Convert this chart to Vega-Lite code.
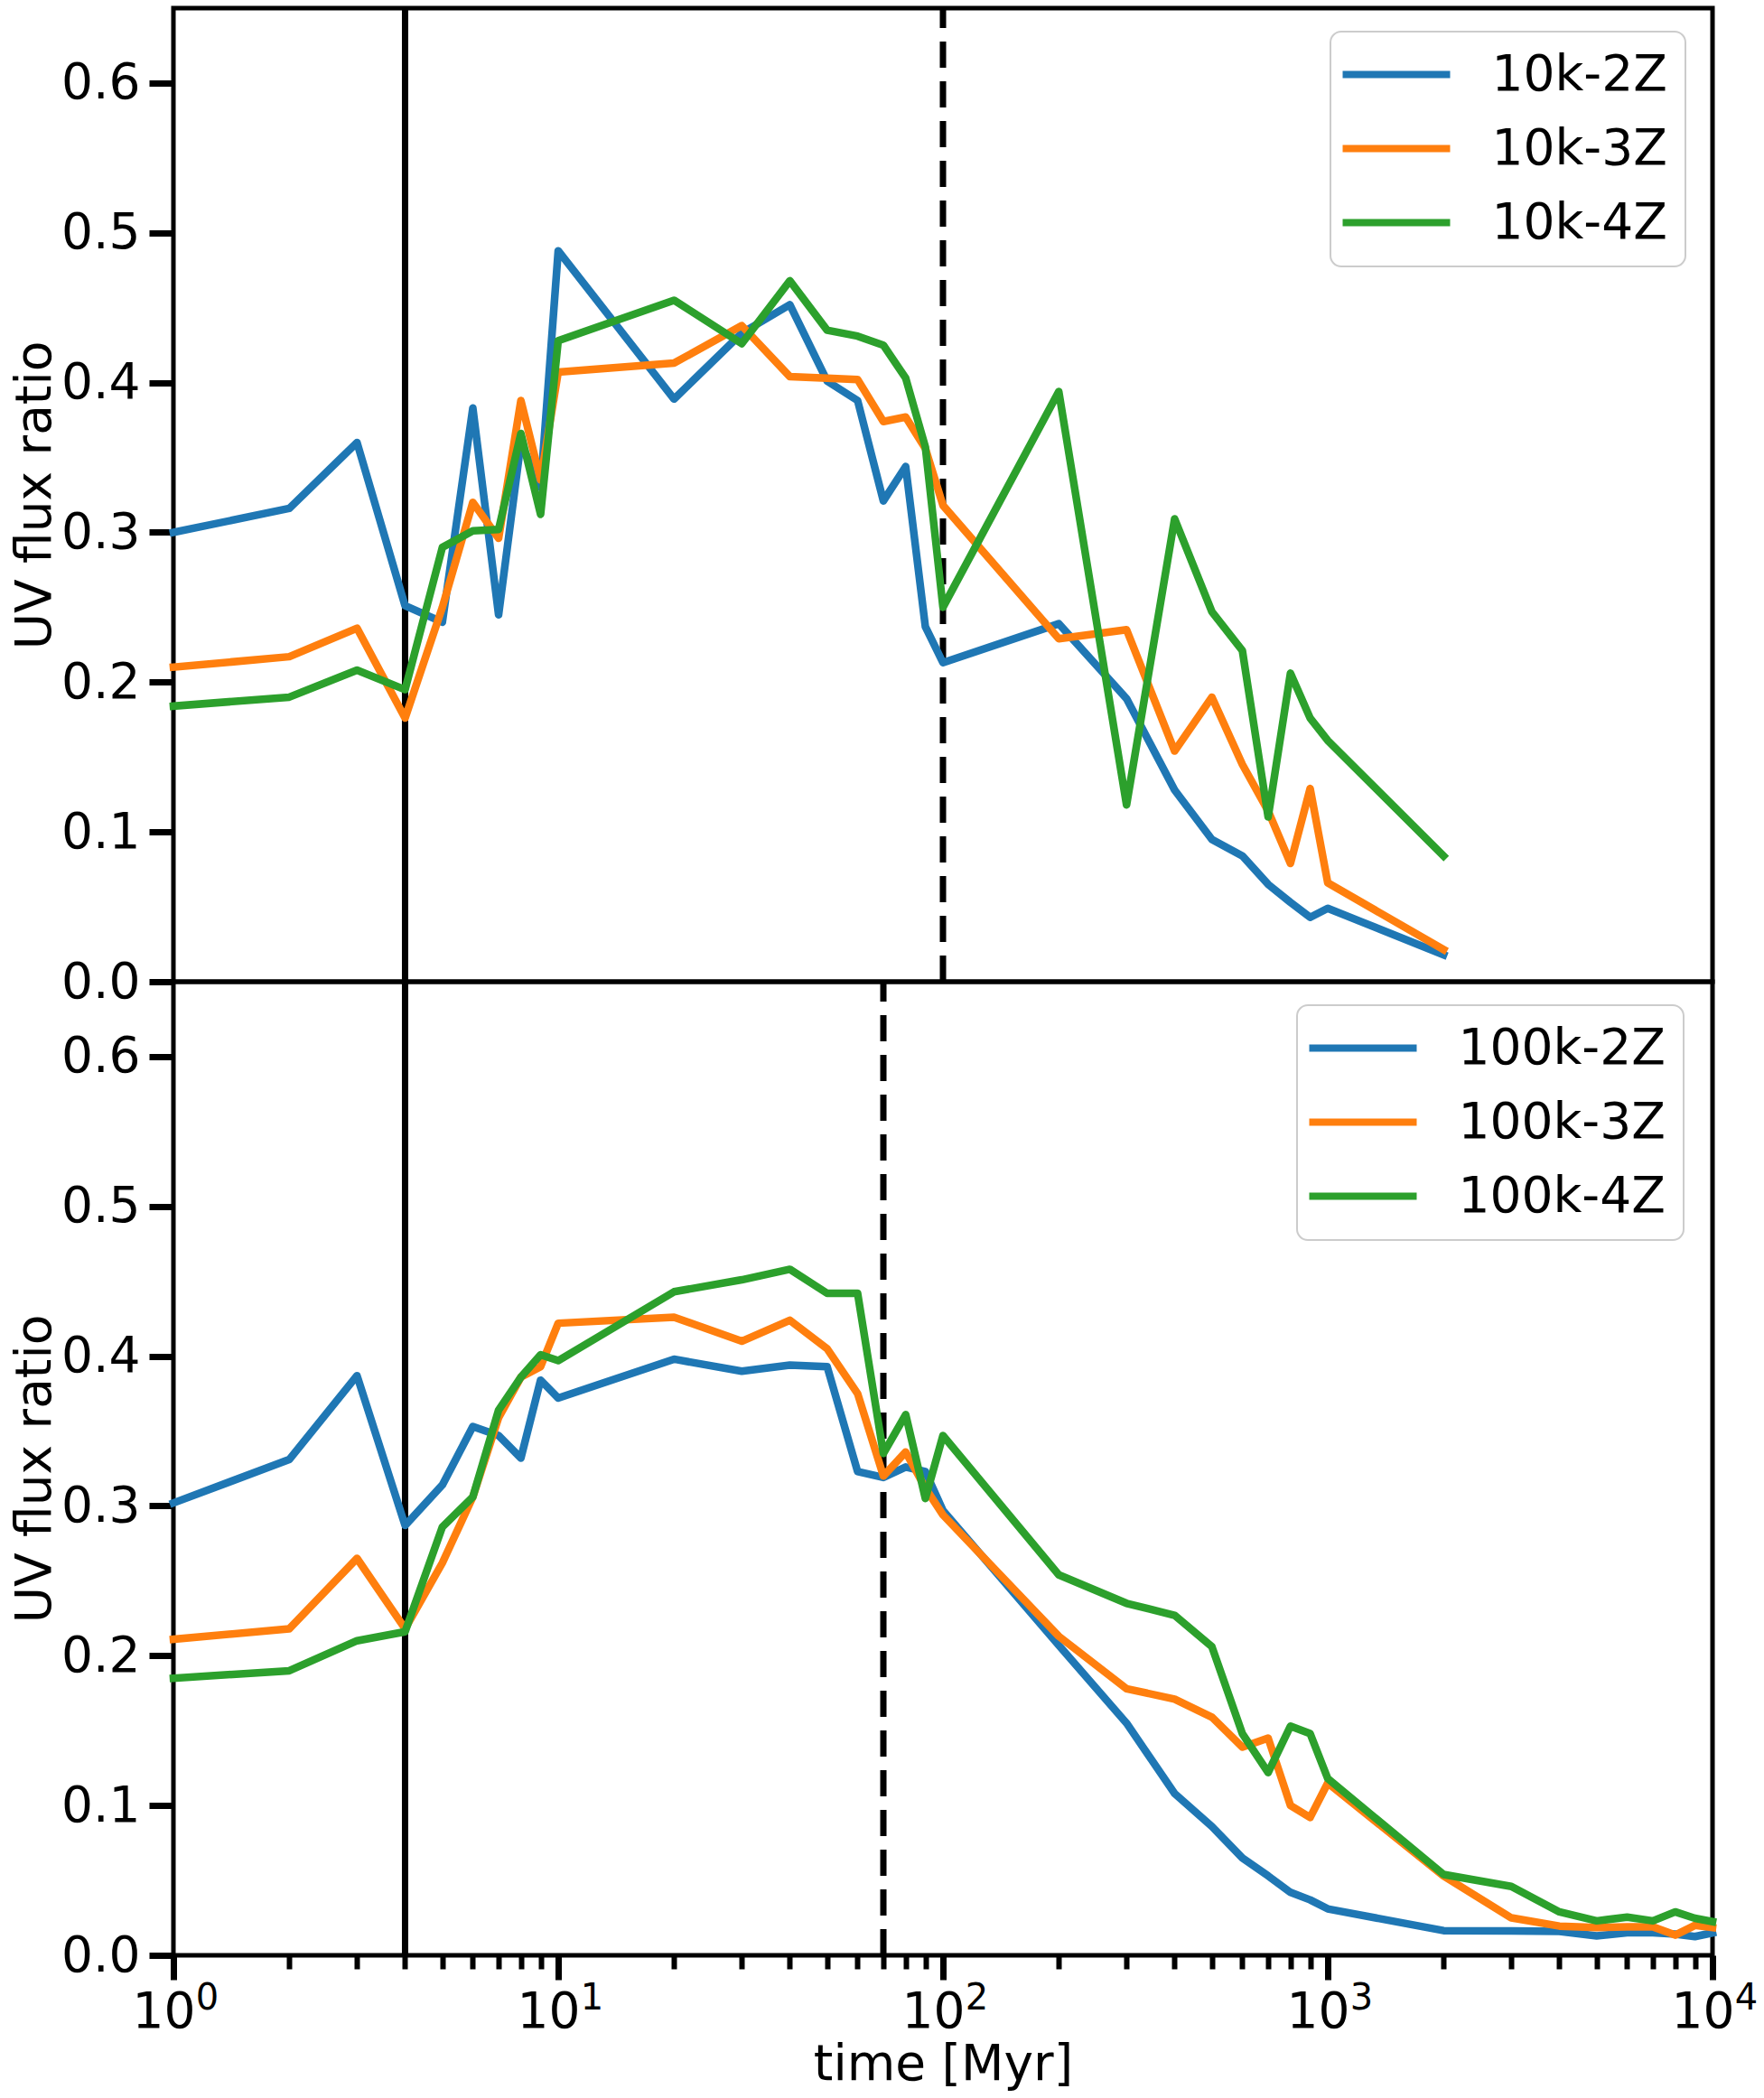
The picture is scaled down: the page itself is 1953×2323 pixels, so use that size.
{
  "$schema": "https://vega.github.io/schema/vega-lite/v6.json",
  "background": "white",
  "padding": {"left": 9, "top": 3, "right": 0, "bottom": 0},
  "spacing": 0,
  "bounds": "flush",
  "datasets": {
    "top_vlines": [{"t": 4, "style": "solid"}, {"t": 100, "style": "dashed"}],
    "bottom_vlines": [{"t": 4, "style": "solid"}, {"t": 70, "style": "dashed"}],
    "top_lines": [
      {"t": 1, "r": 0.300, "run": "10k-2Z"}, {"t": 2, "r": 0.316, "run": "10k-2Z"}, {"t": 3, "r": 0.360, "run": "10k-2Z"},
      {"t": 4, "r": 0.251, "run": "10k-2Z"}, {"t": 5, "r": 0.240, "run": "10k-2Z"}, {"t": 6, "r": 0.383, "run": "10k-2Z"},
      {"t": 7, "r": 0.245, "run": "10k-2Z"}, {"t": 8, "r": 0.360, "run": "10k-2Z"}, {"t": 9, "r": 0.330, "run": "10k-2Z"},
      {"t": 10, "r": 0.488, "run": "10k-2Z"}, {"t": 20, "r": 0.389, "run": "10k-2Z"}, {"t": 30, "r": 0.433, "run": "10k-2Z"},
      {"t": 40, "r": 0.452, "run": "10k-2Z"}, {"t": 50, "r": 0.401, "run": "10k-2Z"}, {"t": 60, "r": 0.388, "run": "10k-2Z"},
      {"t": 70, "r": 0.321, "run": "10k-2Z"}, {"t": 80, "r": 0.344, "run": "10k-2Z"}, {"t": 90, "r": 0.237, "run": "10k-2Z"},
      {"t": 100, "r": 0.213, "run": "10k-2Z"}, {"t": 200, "r": 0.239, "run": "10k-2Z"}, {"t": 300, "r": 0.189, "run": "10k-2Z"},
      {"t": 400, "r": 0.128, "run": "10k-2Z"}, {"t": 500, "r": 0.095, "run": "10k-2Z"}, {"t": 600, "r": 0.084, "run": "10k-2Z"},
      {"t": 700, "r": 0.065, "run": "10k-2Z"}, {"t": 800, "r": 0.053, "run": "10k-2Z"}, {"t": 900, "r": 0.043, "run": "10k-2Z"},
      {"t": 1000, "r": 0.049, "run": "10k-2Z"}, {"t": 2000, "r": 0.018, "run": "10k-2Z"},

      {"t": 1, "r": 0.210, "run": "10k-3Z"}, {"t": 2, "r": 0.217, "run": "10k-3Z"}, {"t": 3, "r": 0.236, "run": "10k-3Z"},
      {"t": 4, "r": 0.176, "run": "10k-3Z"}, {"t": 5, "r": 0.250, "run": "10k-3Z"}, {"t": 6, "r": 0.320, "run": "10k-3Z"},
      {"t": 7, "r": 0.296, "run": "10k-3Z"}, {"t": 8, "r": 0.388, "run": "10k-3Z"}, {"t": 9, "r": 0.335, "run": "10k-3Z"},
      {"t": 10, "r": 0.407, "run": "10k-3Z"}, {"t": 20, "r": 0.413, "run": "10k-3Z"}, {"t": 30, "r": 0.438, "run": "10k-3Z"},
      {"t": 40, "r": 0.404, "run": "10k-3Z"}, {"t": 50, "r": 0.403, "run": "10k-3Z"}, {"t": 60, "r": 0.402, "run": "10k-3Z"},
      {"t": 70, "r": 0.374, "run": "10k-3Z"}, {"t": 80, "r": 0.377, "run": "10k-3Z"}, {"t": 90, "r": 0.356, "run": "10k-3Z"},
      {"t": 100, "r": 0.318, "run": "10k-3Z"}, {"t": 200, "r": 0.229, "run": "10k-3Z"}, {"t": 300, "r": 0.235, "run": "10k-3Z"},
      {"t": 400, "r": 0.154, "run": "10k-3Z"}, {"t": 500, "r": 0.190, "run": "10k-3Z"}, {"t": 600, "r": 0.145, "run": "10k-3Z"},
      {"t": 700, "r": 0.114, "run": "10k-3Z"}, {"t": 800, "r": 0.079, "run": "10k-3Z"}, {"t": 900, "r": 0.129, "run": "10k-3Z"},
      {"t": 1000, "r": 0.066, "run": "10k-3Z"}, {"t": 2000, "r": 0.0215, "run": "10k-3Z"},

      {"t": 1, "r": 0.184, "run": "10k-4Z"}, {"t": 2, "r": 0.190, "run": "10k-4Z"}, {"t": 3, "r": 0.208, "run": "10k-4Z"},
      {"t": 4, "r": 0.195, "run": "10k-4Z"}, {"t": 5, "r": 0.290, "run": "10k-4Z"}, {"t": 6, "r": 0.301, "run": "10k-4Z"},
      {"t": 7, "r": 0.302, "run": "10k-4Z"}, {"t": 8, "r": 0.366, "run": "10k-4Z"}, {"t": 9, "r": 0.312, "run": "10k-4Z"},
      {"t": 10, "r": 0.428, "run": "10k-4Z"}, {"t": 20, "r": 0.455, "run": "10k-4Z"}, {"t": 30, "r": 0.426, "run": "10k-4Z"},
      {"t": 40, "r": 0.468, "run": "10k-4Z"}, {"t": 50, "r": 0.435, "run": "10k-4Z"}, {"t": 60, "r": 0.431, "run": "10k-4Z"},
      {"t": 70, "r": 0.425, "run": "10k-4Z"}, {"t": 80, "r": 0.403, "run": "10k-4Z"}, {"t": 90, "r": 0.357, "run": "10k-4Z"},
      {"t": 100, "r": 0.250, "run": "10k-4Z"}, {"t": 200, "r": 0.394, "run": "10k-4Z"}, {"t": 300, "r": 0.118, "run": "10k-4Z"},
      {"t": 400, "r": 0.309, "run": "10k-4Z"}, {"t": 500, "r": 0.247, "run": "10k-4Z"}, {"t": 600, "r": 0.221, "run": "10k-4Z"},
      {"t": 700, "r": 0.110, "run": "10k-4Z"}, {"t": 800, "r": 0.206, "run": "10k-4Z"}, {"t": 900, "r": 0.176, "run": "10k-4Z"},
      {"t": 1000, "r": 0.161, "run": "10k-4Z"}, {"t": 2000, "r": 0.084, "run": "10k-4Z"}
    ],
    "bottom_lines": [
      {"t": 1, "r": 0.302, "run": "100k-2Z"}, {"t": 2, "r": 0.331, "run": "100k-2Z"}, {"t": 3, "r": 0.387, "run": "100k-2Z"},
      {"t": 4, "r": 0.287, "run": "100k-2Z"}, {"t": 5, "r": 0.314, "run": "100k-2Z"}, {"t": 6, "r": 0.353, "run": "100k-2Z"},
      {"t": 7, "r": 0.347, "run": "100k-2Z"}, {"t": 8, "r": 0.332, "run": "100k-2Z"}, {"t": 9, "r": 0.384, "run": "100k-2Z"},
      {"t": 10, "r": 0.372, "run": "100k-2Z"}, {"t": 20, "r": 0.398, "run": "100k-2Z"}, {"t": 30, "r": 0.390, "run": "100k-2Z"},
      {"t": 40, "r": 0.394, "run": "100k-2Z"}, {"t": 50, "r": 0.393, "run": "100k-2Z"}, {"t": 60, "r": 0.323, "run": "100k-2Z"},
      {"t": 70, "r": 0.319, "run": "100k-2Z"}, {"t": 80, "r": 0.326, "run": "100k-2Z"}, {"t": 90, "r": 0.323, "run": "100k-2Z"},
      {"t": 100, "r": 0.297, "run": "100k-2Z"}, {"t": 200, "r": 0.207, "run": "100k-2Z"}, {"t": 300, "r": 0.155, "run": "100k-2Z"},
      {"t": 400, "r": 0.108, "run": "100k-2Z"}, {"t": 500, "r": 0.086, "run": "100k-2Z"}, {"t": 600, "r": 0.065, "run": "100k-2Z"},
      {"t": 700, "r": 0.053, "run": "100k-2Z"}, {"t": 800, "r": 0.042, "run": "100k-2Z"}, {"t": 900, "r": 0.037, "run": "100k-2Z"},
      {"t": 1000, "r": 0.031, "run": "100k-2Z"}, {"t": 2000, "r": 0.0165, "run": "100k-2Z"}, {"t": 3000, "r": 0.0163, "run": "100k-2Z"},
      {"t": 4000, "r": 0.016, "run": "100k-2Z"}, {"t": 5000, "r": 0.013, "run": "100k-2Z"}, {"t": 6000, "r": 0.015, "run": "100k-2Z"},
      {"t": 7000, "r": 0.015, "run": "100k-2Z"}, {"t": 8000, "r": 0.0142, "run": "100k-2Z"}, {"t": 9000, "r": 0.0125, "run": "100k-2Z"},
      {"t": 10000, "r": 0.015, "run": "100k-2Z"},

      {"t": 1, "r": 0.211, "run": "100k-3Z"}, {"t": 2, "r": 0.218, "run": "100k-3Z"}, {"t": 3, "r": 0.265, "run": "100k-3Z"},
      {"t": 4, "r": 0.218, "run": "100k-3Z"}, {"t": 5, "r": 0.262, "run": "100k-3Z"}, {"t": 6, "r": 0.306, "run": "100k-3Z"},
      {"t": 7, "r": 0.359, "run": "100k-3Z"}, {"t": 8, "r": 0.386, "run": "100k-3Z"}, {"t": 9, "r": 0.393, "run": "100k-3Z"},
      {"t": 10, "r": 0.422, "run": "100k-3Z"}, {"t": 20, "r": 0.426, "run": "100k-3Z"}, {"t": 30, "r": 0.410, "run": "100k-3Z"},
      {"t": 40, "r": 0.424, "run": "100k-3Z"}, {"t": 50, "r": 0.405, "run": "100k-3Z"}, {"t": 60, "r": 0.375, "run": "100k-3Z"},
      {"t": 70, "r": 0.320, "run": "100k-3Z"}, {"t": 80, "r": 0.336, "run": "100k-3Z"}, {"t": 90, "r": 0.312, "run": "100k-3Z"},
      {"t": 100, "r": 0.294, "run": "100k-3Z"}, {"t": 200, "r": 0.213, "run": "100k-3Z"}, {"t": 300, "r": 0.178, "run": "100k-3Z"},
      {"t": 400, "r": 0.171, "run": "100k-3Z"}, {"t": 500, "r": 0.159, "run": "100k-3Z"}, {"t": 600, "r": 0.139, "run": "100k-3Z"},
      {"t": 700, "r": 0.145, "run": "100k-3Z"}, {"t": 800, "r": 0.100, "run": "100k-3Z"}, {"t": 900, "r": 0.092, "run": "100k-3Z"},
      {"t": 1000, "r": 0.115, "run": "100k-3Z"}, {"t": 2000, "r": 0.053, "run": "100k-3Z"}, {"t": 3000, "r": 0.025, "run": "100k-3Z"},
      {"t": 4000, "r": 0.0195, "run": "100k-3Z"}, {"t": 5000, "r": 0.0185, "run": "100k-3Z"}, {"t": 6000, "r": 0.019, "run": "100k-3Z"},
      {"t": 7000, "r": 0.019, "run": "100k-3Z"}, {"t": 8000, "r": 0.0135, "run": "100k-3Z"}, {"t": 9000, "r": 0.020, "run": "100k-3Z"},
      {"t": 10000, "r": 0.0185, "run": "100k-3Z"},

      {"t": 1, "r": 0.185, "run": "100k-4Z"}, {"t": 2, "r": 0.190, "run": "100k-4Z"}, {"t": 3, "r": 0.210, "run": "100k-4Z"},
      {"t": 4, "r": 0.216, "run": "100k-4Z"}, {"t": 5, "r": 0.286, "run": "100k-4Z"}, {"t": 6, "r": 0.306, "run": "100k-4Z"},
      {"t": 7, "r": 0.364, "run": "100k-4Z"}, {"t": 8, "r": 0.386, "run": "100k-4Z"}, {"t": 9, "r": 0.401, "run": "100k-4Z"},
      {"t": 10, "r": 0.397, "run": "100k-4Z"}, {"t": 20, "r": 0.443, "run": "100k-4Z"}, {"t": 30, "r": 0.451, "run": "100k-4Z"},
      {"t": 40, "r": 0.458, "run": "100k-4Z"}, {"t": 50, "r": 0.442, "run": "100k-4Z"}, {"t": 60, "r": 0.442, "run": "100k-4Z"},
      {"t": 70, "r": 0.335, "run": "100k-4Z"}, {"t": 80, "r": 0.361, "run": "100k-4Z"}, {"t": 90, "r": 0.305, "run": "100k-4Z"},
      {"t": 100, "r": 0.347, "run": "100k-4Z"}, {"t": 200, "r": 0.254, "run": "100k-4Z"}, {"t": 300, "r": 0.235, "run": "100k-4Z"},
      {"t": 400, "r": 0.227, "run": "100k-4Z"}, {"t": 500, "r": 0.206, "run": "100k-4Z"}, {"t": 600, "r": 0.148, "run": "100k-4Z"},
      {"t": 700, "r": 0.122, "run": "100k-4Z"}, {"t": 800, "r": 0.153, "run": "100k-4Z"}, {"t": 900, "r": 0.148, "run": "100k-4Z"},
      {"t": 1000, "r": 0.118, "run": "100k-4Z"}, {"t": 2000, "r": 0.054, "run": "100k-4Z"}, {"t": 3000, "r": 0.046, "run": "100k-4Z"},
      {"t": 4000, "r": 0.029, "run": "100k-4Z"}, {"t": 5000, "r": 0.023, "run": "100k-4Z"}, {"t": 6000, "r": 0.0255, "run": "100k-4Z"},
      {"t": 7000, "r": 0.023, "run": "100k-4Z"}, {"t": 8000, "r": 0.029, "run": "100k-4Z"}, {"t": 9000, "r": 0.0247, "run": "100k-4Z"},
      {"t": 10000, "r": 0.0225, "run": "100k-4Z"}
    ]
  },
  "vconcat": [
    {
      "width": 1704,
      "height": 1078,
      "layer": [
        {
          "data": {"name": "top_vlines"},
          "mark": {"type": "rule", "color": "black", "strokeWidth": 7},
          "encoding": {
            "x": {"field": "t", "type": "quantitative", "scale": {"type": "log", "domain": [1, 10000], "nice": false}},
            "y": {"datum": 0, "type": "quantitative", "scale": {"domain": [0, 0.65], "nice": false, "zero": false}},
            "y2": {"datum": 0.65},
            "strokeDash": {
              "field": "style", "type": "nominal",
              "scale": {"domain": ["solid", "dashed"], "range": [[1, 0], [29, 15]]},
              "legend": null
            }
          }
        },
        {
          "data": {"name": "top_lines"},
          "mark": {"type": "line", "strokeWidth": 8.5, "strokeCap": "square", "strokeJoin": "round"},
          "encoding": {
            "x": {
              "field": "t", "type": "quantitative", "scale": {"type": "log", "domain": [1, 10000], "nice": false},
              "axis": {
                "orient": "bottom",
                "offset": 1078,
                "values": [1, 10, 100, 1000, 10000],
                "ticks": false,
                "labelExpr": "'' + round(log(datum.value) / LN10)",
                "labelFontSize": 40,
                "labelPadding": 27,
                "labelOffset": 37,
                "labelFlush": false,
                "labelOverlap": false,
                "title": null
              }
            },
            "y": {
              "field": "r", "type": "quantitative",
              "scale": {"domain": [0, 0.65], "nice": false, "zero": false},
              "axis": {"values": [0, 0.1, 0.2, 0.3, 0.4, 0.5, 0.6], "format": ".1f", "title": "UV flux ratio"}
            },
            "color": {
              "field": "run", "type": "nominal",
              "scale": {"domain": ["10k-2Z", "10k-3Z", "10k-4Z"], "range": ["#1f77b4", "#ff7f0e", "#2ca02c"]},
              "legend": {"orient": "none", "legendX": 1281, "legendY": 26}
            }
          }
        }
      ]
    },
    {
      "width": 1704,
      "height": 1078,
      "layer": [
        {
          "data": {"name": "bottom_vlines"},
          "mark": {"type": "rule", "color": "black", "strokeWidth": 7},
          "encoding": {
            "x": {"field": "t", "type": "quantitative", "scale": {"type": "log", "domain": [1, 10000], "nice": false}},
            "y": {"datum": 0, "type": "quantitative", "scale": {"domain": [0, 0.65], "nice": false, "zero": false}},
            "y2": {"datum": 0.65},
            "strokeDash": {
              "field": "style", "type": "nominal",
              "scale": {"domain": ["solid", "dashed"], "range": [[1, 0], [29, 15]]},
              "legend": null
            }
          }
        },
        {
          "data": {"name": "bottom_lines"},
          "mark": {"type": "line", "strokeWidth": 8.5, "strokeCap": "square", "strokeJoin": "round"},
          "encoding": {
            "x": {
              "field": "t", "type": "quantitative", "scale": {"type": "log", "domain": [1, 10000], "nice": false},
              "axis": {
                "values": [1, 2, 3, 4, 5, 6, 7, 8, 9, 10, 20, 30, 40, 50, 60, 70, 80, 90, 100, 200, 300, 400, 500, 600, 700, 800, 900, 1000, 2000, 3000, 4000, 5000, 6000, 7000, 8000, 9000, 10000],
                "labelExpr": "indexof([1, 10, 100, 1000, 10000], datum.value) >= 0 ? '10' : ''",
                "tickSize": {"condition": {"test": "indexof([1, 10, 100, 1000, 10000], datum.value) >= 0", "value": 27}, "value": 15},
                "tickWidth": {"condition": {"test": "indexof([1, 10, 100, 1000, 10000], datum.value) >= 0", "value": 7}, "value": 6},
                "labelPadding": 9,
                "labelOffset": -11,
                "labelFlush": false,
                "labelOverlap": false,
                "title": "time [Myr]",
                "titlePadding": 4
              }
            },
            "y": {
              "field": "r", "type": "quantitative",
              "scale": {"domain": [0, 0.65], "nice": false, "zero": false},
              "axis": {"values": [0, 0.1, 0.2, 0.3, 0.4, 0.5, 0.6], "format": ".1f", "title": "UV flux ratio"}
            },
            "color": {
              "field": "run", "type": "nominal",
              "scale": {"domain": ["100k-2Z", "100k-3Z", "100k-4Z"], "range": ["#1f77b4", "#ff7f0e", "#2ca02c"]},
              "legend": {"orient": "none", "legendX": 1244, "legendY": 26}
            }
          }
        }
      ]
    }
  ],
  "resolve": {"scale": {"color": "independent", "strokeDash": "independent"}},
  "config": {
    "font": "DejaVu Sans",
    "view": {"stroke": "black", "strokeWidth": 5},
    "axis": {
      "domain": false,
      "grid": false,
      "tickColor": "black",
      "tickSize": 27,
      "tickWidth": 7,
      "labelColor": "black",
      "labelFontSize": 55,
      "labelPadding": 10,
      "titleColor": "black",
      "titleFontSize": 55,
      "titleFontWeight": "normal",
      "titlePadding": 0
    },
    "legend": {
      "title": null,
      "symbolType": "M-3,0L3,0",
      "symbolSize": 1573,
      "symbolStrokeWidth": 8,
      "symbolOffset": 25.5,
      "labelOffset": 78,
      "labelLimit": 600,
      "labelFontSize": 55,
      "labelColor": "black",
      "rowPadding": 26,
      "padding": 20,
      "fillColor": "white",
      "strokeColor": "#cccccc",
      "strokeWidth": 2,
      "cornerRadius": 12
    }
  }
}
